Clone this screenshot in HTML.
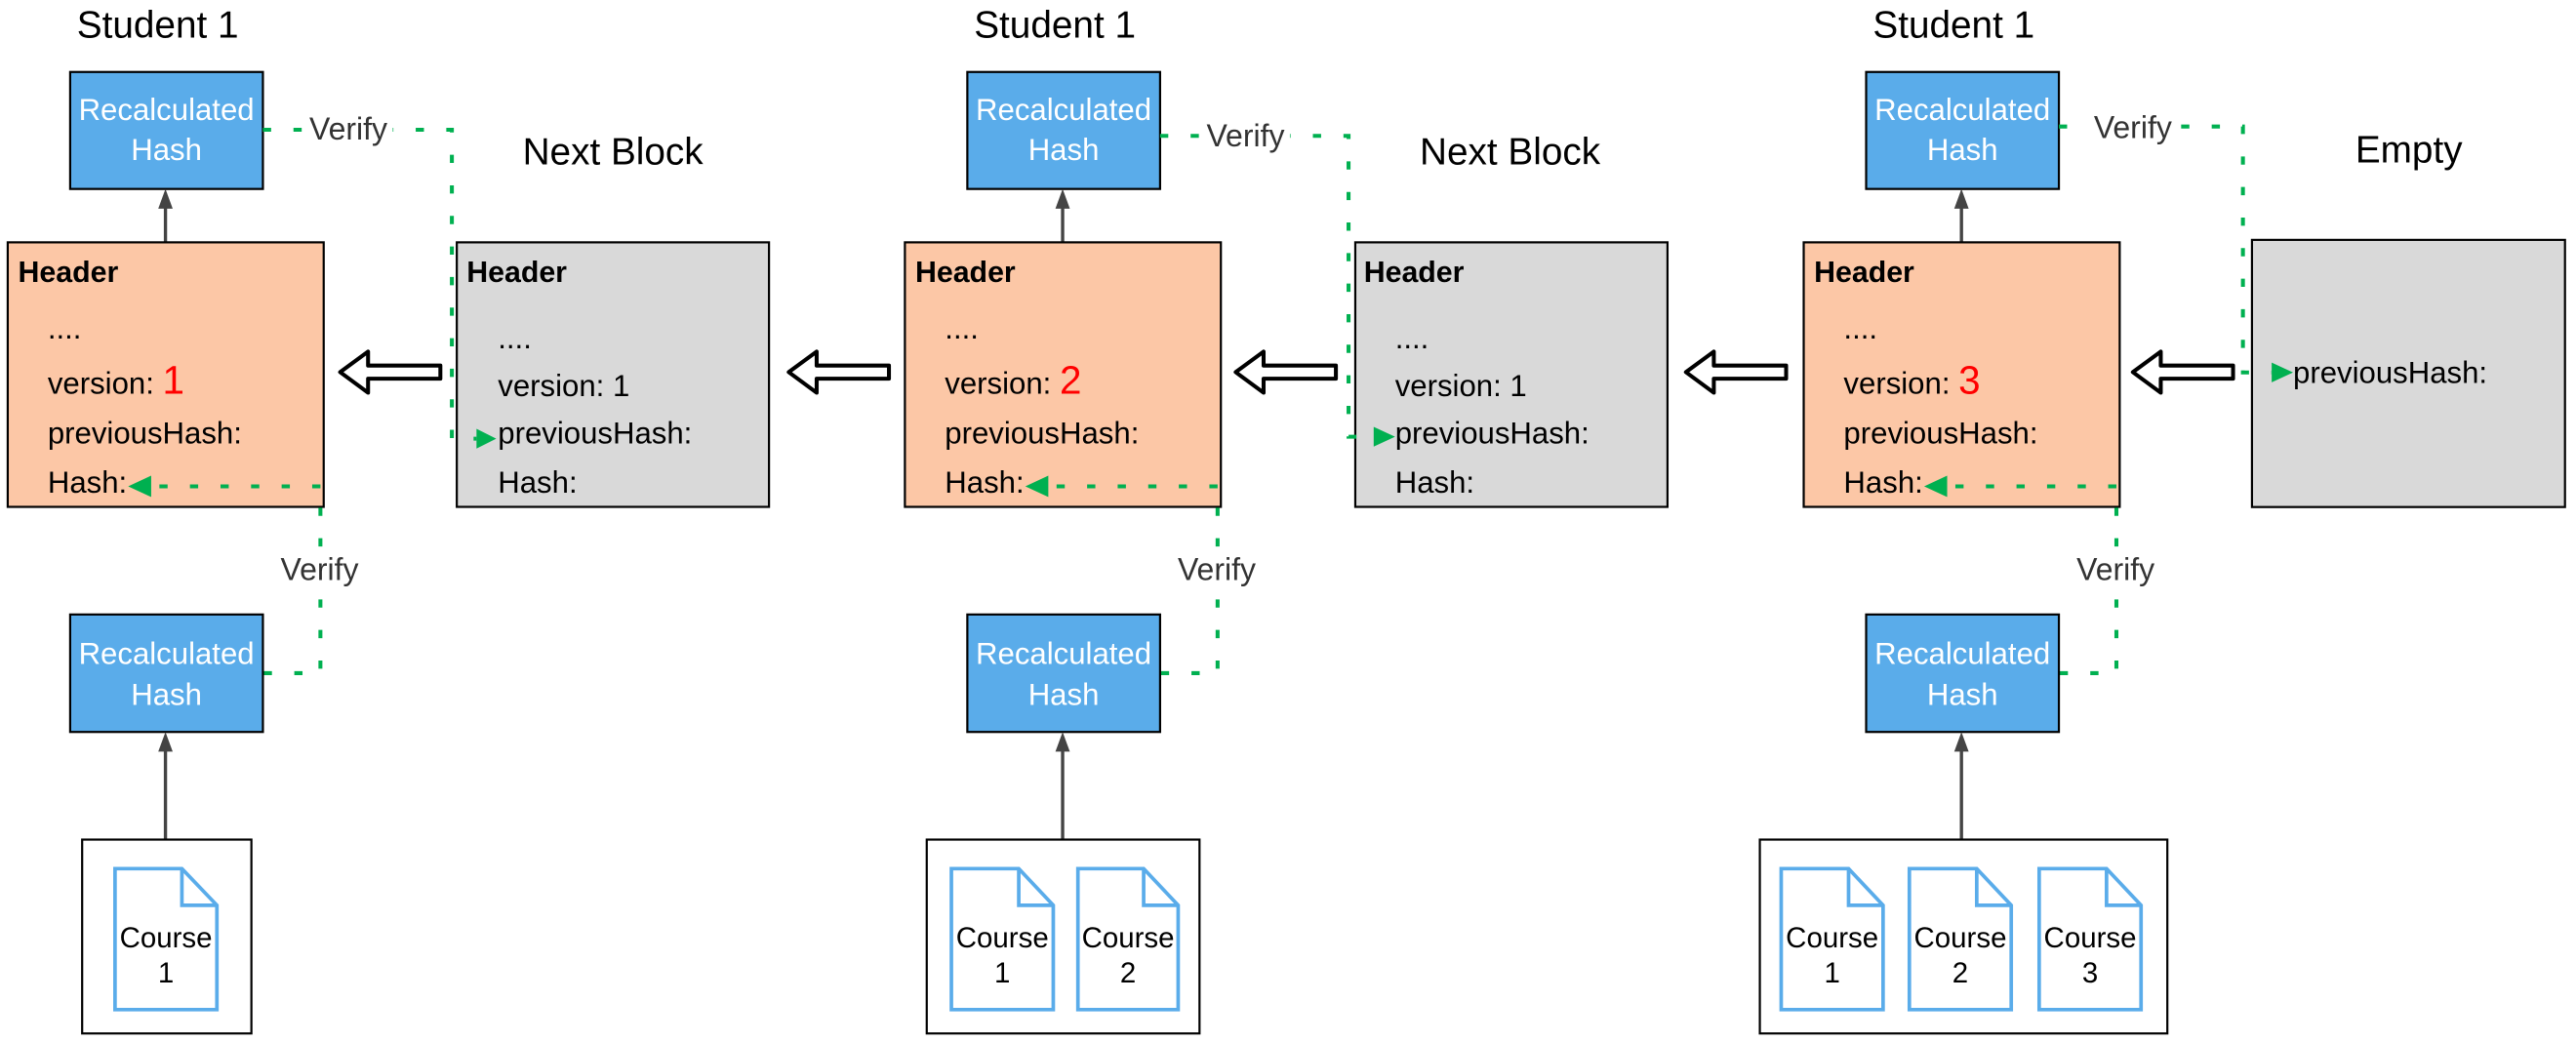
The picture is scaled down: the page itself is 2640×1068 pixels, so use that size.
<!DOCTYPE html>
<html><head><meta charset="utf-8"><style>
html,body{margin:0;padding:0;background:#fff;}
svg{display:block;}
text{font-family:"Liberation Sans",Arial,sans-serif;}
.t{font-size:18.5px;fill:#000;}
.b{font-size:18px;font-weight:bold;fill:#000;}
.w{font-size:18.5px;fill:#fff;}
.ti{font-size:23px;fill:#000;}
.v{font-size:19px;fill:#333;}
.c{font-size:17.5px;fill:#000;}
.g{fill:none;stroke:#00b050;stroke-width:2.4;stroke-dasharray:5 13.6;}
</style></head><body>
<svg width="2640" height="1068" viewBox="0 0 1567.7 634.2" xmlns="http://www.w3.org/2000/svg">
<defs>
<g id="hollow"><polygon points="0,0 17,-12.5 17,-4 61,-4 61,4 17,4 17,12.5" fill="#fff" stroke="#000" stroke-width="2.4" stroke-linejoin="round"/></g>
</defs>
<rect width="1567.7" height="634.2" fill="#fff"/>

<use href="#hollow" x="207" y="226.5"/>
<use href="#hollow" x="480" y="226.5"/>
<use href="#hollow" x="752" y="226.5"/>
<use href="#hollow" x="1026" y="226.5"/>
<use href="#hollow" x="1298" y="226.5"/>

<!-- Column 1 -->
<g>
<text x="96" y="23" class="ti" text-anchor="middle">Student 1</text>
<rect x="42.7" y="43.8" width="117.3" height="71.2" fill="#5aacea" stroke="#000" stroke-width="1.3"/>
<text x="101.3" y="73" class="w" text-anchor="middle">Recalculated</text>
<text x="101.3" y="97.5" class="w" text-anchor="middle">Hash</text>
<line x1="100.7" y1="147.5" x2="100.7" y2="126" stroke="#444" stroke-width="2"/>
<polygon points="100.7,115 96.3,127 105.1,127" fill="#444"/>
<rect x="4.7" y="147.5" width="192.3" height="161" fill="#fcc7a6" stroke="#000" stroke-width="1.3"/>
<text x="11" y="171.5" class="b">Header</text>
<text x="29" y="206" class="t">....</text>
<text x="29" y="239.5" class="t">version: <tspan fill="#f00" font-size="24">1</tspan></text>
<text x="29" y="270" class="t">previousHash:</text>
<text x="29" y="300" class="t">Hash:</text>
<path class="g" d="M195,296 H92"/>
<polygon points="78,296 92,289.5 92,302.5" fill="#00b050"/>
<path class="g" d="M195,309 V409.7 H160"/>
<rect x="168" y="337" width="53" height="22" fill="#fff"/>
<text x="194.5" y="353" class="v" text-anchor="middle">Verify</text>
<rect x="42.7" y="374" width="117.3" height="71.5" fill="#5aacea" stroke="#000" stroke-width="1.3"/>
<text x="101.3" y="404" class="w" text-anchor="middle">Recalculated</text>
<text x="101.3" y="429" class="w" text-anchor="middle">Hash</text>
<line x1="100.7" y1="511" x2="100.7" y2="456" stroke="#444" stroke-width="2"/>
<polygon points="100.7,445.5 96.3,457.5 105.1,457.5" fill="#444"/>
<rect x="50" y="511" width="103" height="118" fill="#fff" stroke="#000" stroke-width="1.3"/>
<path d="M70,528.7 H110.7 L132,551 V614.5 H70 Z M110.7,528.7 V551 H132" fill="#fff" stroke="#5aacea" stroke-width="2.2"/>
<text x="101" y="576.6" class="c" text-anchor="middle">Course</text>
<text x="101" y="598" class="c" text-anchor="middle">1</text>
<text x="373" y="100" class="ti" text-anchor="middle">Next Block</text>
<rect x="278" y="147.5" width="190" height="161" fill="#d9d9d9" stroke="#000" stroke-width="1.3"/>
<text x="284" y="171.5" class="b">Header</text>
<text x="303" y="212" class="t">....</text>
<text x="303" y="241" class="t">version: 1</text>
<text x="303" y="270" class="t">previousHash:</text>
<text x="303" y="300" class="t">Hash:</text>
<path class="g" d="M160,79 H275 V267 H290"/>
<polygon points="302,267 290,261 290,273" fill="#00b050"/>
<rect x="185" y="67" width="54" height="23" fill="#fff"/>
<text x="212" y="85" class="v" text-anchor="middle">Verify</text>
</g>

<!-- Column 2 -->
<g transform="translate(546,0)">
<text x="96" y="23" class="ti" text-anchor="middle">Student 1</text>
<rect x="42.7" y="43.8" width="117.3" height="71.2" fill="#5aacea" stroke="#000" stroke-width="1.3"/>
<text x="101.3" y="73" class="w" text-anchor="middle">Recalculated</text>
<text x="101.3" y="97.5" class="w" text-anchor="middle">Hash</text>
<line x1="100.7" y1="147.5" x2="100.7" y2="126" stroke="#444" stroke-width="2"/>
<polygon points="100.7,115 96.3,127 105.1,127" fill="#444"/>
<rect x="4.7" y="147.5" width="192.3" height="161" fill="#fcc7a6" stroke="#000" stroke-width="1.3"/>
<text x="11" y="171.5" class="b">Header</text>
<text x="29" y="206" class="t">....</text>
<text x="29" y="239.5" class="t">version: <tspan fill="#f00" font-size="24">2</tspan></text>
<text x="29" y="270" class="t">previousHash:</text>
<text x="29" y="300" class="t">Hash:</text>
<path class="g" d="M195,296 H92"/>
<polygon points="78,296 92,289.5 92,302.5" fill="#00b050"/>
<path class="g" d="M195,309 V409.7 H160"/>
<rect x="168" y="337" width="53" height="22" fill="#fff"/>
<text x="194.5" y="353" class="v" text-anchor="middle">Verify</text>
<rect x="42.7" y="374" width="117.3" height="71.5" fill="#5aacea" stroke="#000" stroke-width="1.3"/>
<text x="101.3" y="404" class="w" text-anchor="middle">Recalculated</text>
<text x="101.3" y="429" class="w" text-anchor="middle">Hash</text>
<line x1="100.7" y1="511" x2="100.7" y2="456" stroke="#444" stroke-width="2"/>
<polygon points="100.7,445.5 96.3,457.5 105.1,457.5" fill="#444"/>
<rect x="18" y="511" width="166" height="118" fill="#fff" stroke="#000" stroke-width="1.3"/>
<path d="M33,528.7 H74 L95,551 V614.5 H33 Z M74,528.7 V551 H95" fill="#fff" stroke="#5aacea" stroke-width="2.2"/>
<text x="64" y="576.6" class="c" text-anchor="middle">Course</text>
<text x="64" y="598" class="c" text-anchor="middle">1</text>
<path d="M110,528.7 H150 L171,551 V614.5 H110 Z M150,528.7 V551 H171" fill="#fff" stroke="#5aacea" stroke-width="2.2"/>
<text x="140.5" y="576.6" class="c" text-anchor="middle">Course</text>
<text x="140.5" y="598" class="c" text-anchor="middle">2</text>
<text x="373" y="100" class="ti" text-anchor="middle">Next Block</text>
<rect x="278.8" y="147.5" width="190" height="161" fill="#d9d9d9" stroke="#000" stroke-width="1.3"/>
<text x="284" y="171.5" class="b">Header</text>
<text x="303" y="212" class="t">....</text>
<text x="303" y="241" class="t">version: 1</text>
<text x="303" y="270" class="t">previousHash:</text>
<text x="303" y="300" class="t">Hash:</text>
<path class="g" d="M160,82.7 H274.7 V265.8 H290"/>
<polygon points="303,265.8 290,259.8 290,271.8" fill="#00b050"/>
<rect x="185" y="71" width="54" height="23" fill="#fff"/>
<text x="212" y="89" class="v" text-anchor="middle">Verify</text>
</g>

<!-- Column 3 -->
<g transform="translate(1093,0)">
<text x="96" y="23" class="ti" text-anchor="middle">Student 1</text>
<rect x="42.7" y="43.8" width="117.3" height="71.2" fill="#5aacea" stroke="#000" stroke-width="1.3"/>
<text x="101.3" y="73" class="w" text-anchor="middle">Recalculated</text>
<text x="101.3" y="97.5" class="w" text-anchor="middle">Hash</text>
<line x1="100.7" y1="147.5" x2="100.7" y2="126" stroke="#444" stroke-width="2"/>
<polygon points="100.7,115 96.3,127 105.1,127" fill="#444"/>
<rect x="4.7" y="147.5" width="192.3" height="161" fill="#fcc7a6" stroke="#000" stroke-width="1.3"/>
<text x="11" y="171.5" class="b">Header</text>
<text x="29" y="206" class="t">....</text>
<text x="29" y="239.5" class="t">version: <tspan fill="#f00" font-size="24">3</tspan></text>
<text x="29" y="270" class="t">previousHash:</text>
<text x="29" y="300" class="t">Hash:</text>
<path class="g" d="M195,296 H92"/>
<polygon points="78,296 92,289.5 92,302.5" fill="#00b050"/>
<path class="g" d="M195,309 V409.7 H160"/>
<rect x="168" y="337" width="53" height="22" fill="#fff"/>
<text x="194.5" y="353" class="v" text-anchor="middle">Verify</text>
<rect x="42.7" y="374" width="117.3" height="71.5" fill="#5aacea" stroke="#000" stroke-width="1.3"/>
<text x="101.3" y="404" class="w" text-anchor="middle">Recalculated</text>
<text x="101.3" y="429" class="w" text-anchor="middle">Hash</text>
<line x1="100.7" y1="511" x2="100.7" y2="456" stroke="#444" stroke-width="2"/>
<polygon points="100.7,445.5 96.3,457.5 105.1,457.5" fill="#444"/>
<rect x="-22" y="511" width="248" height="118" fill="#fff" stroke="#000" stroke-width="1.3"/>
<path d="M-9,528.7 H32 L53,551 V614.5 H-9 Z M32,528.7 V551 H53" fill="#fff" stroke="#5aacea" stroke-width="2.2"/>
<text x="22" y="576.6" class="c" text-anchor="middle">Course</text>
<text x="22" y="598" class="c" text-anchor="middle">1</text>
<path d="M69,528.7 H110 L131,551 V614.5 H69 Z M110,528.7 V551 H131" fill="#fff" stroke="#5aacea" stroke-width="2.2"/>
<text x="100" y="576.6" class="c" text-anchor="middle">Course</text>
<text x="100" y="598" class="c" text-anchor="middle">2</text>
<path d="M148,528.7 H189 L210,551 V614.5 H148 Z M189,528.7 V551 H210" fill="#fff" stroke="#5aacea" stroke-width="2.2"/>
<text x="179" y="576.6" class="c" text-anchor="middle">Course</text>
<text x="179" y="598" class="c" text-anchor="middle">3</text>
<text x="373" y="99" class="ti" text-anchor="middle">Empty</text>
<rect x="277.5" y="146" width="190.5" height="162.6" fill="#d9d9d9" stroke="#000" stroke-width="1.3"/>
<text x="302.5" y="233" class="t">previousHash:</text>
<path class="g" d="M160,77 H272 V226.7 H289.5"/>
<polygon points="302.5,226.7 289.5,220.7 289.5,232.7" fill="#00b050"/>
<rect x="178" y="65" width="54" height="23" fill="#fff"/>
<text x="205" y="84" class="v" text-anchor="middle">Verify</text>
</g>
</svg>
</body></html>
